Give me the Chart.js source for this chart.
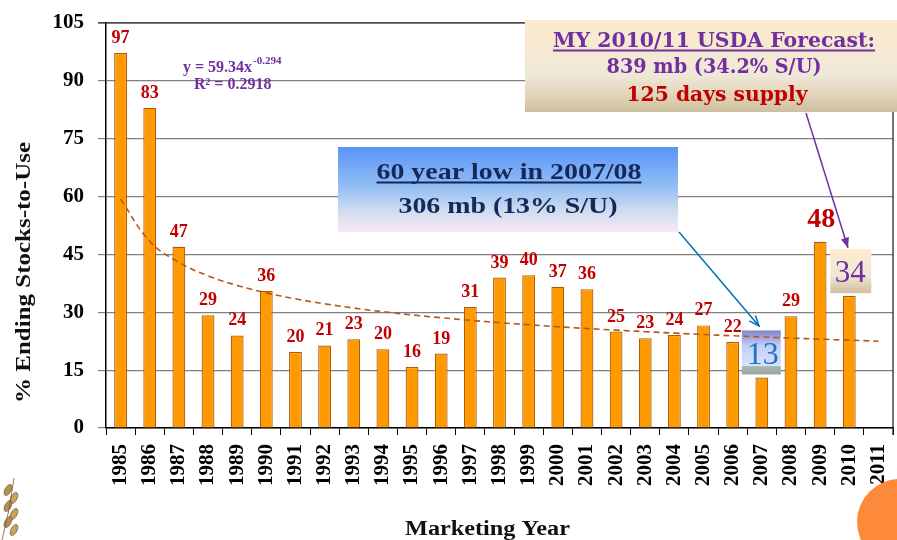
<!DOCTYPE html>
<html><head><meta charset="utf-8">
<script src="https://cdn.jsdelivr.net/npm/chart.js@4/dist/chart.umd.min.js"></script>
<style>html,body{margin:0;padding:0;background:#fff;overflow:hidden}#wrap{width:897px;height:540px;position:relative}</style>
</head><body><div id="wrap"><canvas id="c" width="897" height="540"></canvas></div>
<script>
const years = ['1985','1986','1987','1988','1989','1990','1991','1992','1993','1994','1995','1996','1997','1998','1999','2000','2001','2002','2003','2004','2005','2006','2007','2008','2009','2010','2011'];
const stocksToUse = [97.2,83,47,29.2,24,35.6,19.7,21.4,23,20.4,15.8,19.3,31.4,39,39.6,36.6,36,25,23.3,24.1,26.6,22.3,13.1,29,48.3,34.2,null];
const barLabels = ['97','83','47','29','24','36','20','21','23','20','16','19','31','39','40','37','36','25','23','24','27','22','','29','','',''];
const trendValues = [59.34,48.40,42.96,39.47,36.97,35.04,33.49,32.19,31.10,30.15,29.32,28.58,27.91,27.31,26.77,26.26,25.79,25.37,24.97,24.59,24.24,23.91,23.61,23.31,23.03,22.77,22.51];
const yTickValues = [0,15,30,45,60,75,90,105];
const lowYearIndex = 22, lowLabel = '13';
const peakYearIndex = 24, peakLabel = '48';
const forecastIndex = 25, forecastLabel = '34';

const SERIF = '"Liberation Serif", "Times New Roman", serif';
const WIDE_SERIF = '"DejaVu Serif", serif';

function stretchText(ctx, text, cx, y, w, font, color, underline) {
  ctx.save();
  ctx.font = font;
  const m = ctx.measureText(text).width;
  const sx = w / m;
  ctx.fillStyle = color;
  ctx.textAlign = 'center';
  ctx.textBaseline = 'alphabetic';
  ctx.translate(cx, y); ctx.scale(sx, 1);
  ctx.fillText(text, 0, 0);
  ctx.restore();
  if (underline) {
    ctx.save();
    ctx.strokeStyle = color; ctx.lineWidth = 2;
    ctx.beginPath(); ctx.moveTo(cx - w/2, y + 3.5); ctx.lineTo(cx + w/2, y + 3.5); ctx.stroke();
    ctx.restore();
  }
}
function arrow(ctx, x1, y1, x2, y2, color, filled) {
  ctx.strokeStyle = color; ctx.fillStyle = color; ctx.lineWidth = 1.5;
  ctx.beginPath(); ctx.moveTo(x1, y1); ctx.lineTo(x2, y2); ctx.stroke();
  const a = Math.atan2(y2 - y1, x2 - x1), L = 11, s = 0.38;
  const p1 = [x2 - L*Math.cos(a - s), y2 - L*Math.sin(a - s)];
  const p2 = [x2 - L*Math.cos(a + s), y2 - L*Math.sin(a + s)];
  ctx.beginPath(); ctx.moveTo(p1[0], p1[1]); ctx.lineTo(x2, y2); ctx.lineTo(p2[0], p2[1]);
  if (filled) { ctx.closePath(); ctx.fill(); } else ctx.stroke();
}

const boxesUnder = {
  id: 'boxesUnder',
  beforeDatasetsDraw(chart) {
    const ctx = chart.ctx, meta = chart.getDatasetMeta(0);
    ctx.save();
    let el = meta.data[lowYearIndex];
    let bx = el.x - 20, bw = 39, bh = 44, by = el.y - 3 - bh;
    let g = ctx.createLinearGradient(0, by, 0, by + bh);
    g.addColorStop(0, '#8284c8'); g.addColorStop(0.35, '#c4cdf8'); g.addColorStop(0.8, '#d9e1ff');
    g.addColorStop(0.82, '#aab8b2'); g.addColorStop(1, '#97a8a0');
    ctx.fillStyle = g; ctx.fillRect(bx, by, bw, bh);
    ctx.font = '32px ' + SERIF; ctx.fillStyle = '#1b75bc'; ctx.textAlign = 'center'; ctx.textBaseline = 'alphabetic';
    ctx.fillText(lowLabel, el.x + 1, by + 34);
    el = meta.data[forecastIndex];
    bx = el.x - 19; bw = 41; bh = 44; by = el.y - 3 - bh;
    g = ctx.createLinearGradient(0, by, 0, by + bh);
    g.addColorStop(0, '#fdebcf'); g.addColorStop(0.6, '#f1e7d6'); g.addColorStop(1, '#cfc0a0');
    ctx.fillStyle = g; ctx.fillRect(bx, by, bw, bh);
    ctx.font = '31px ' + SERIF; ctx.fillStyle = '#7030a0';
    ctx.fillText(forecastLabel, el.x + 1, by + 33);
    ctx.restore();
  }
};

const overlay = {
  id: 'overlay',
  afterDraw(chart) {
    const ctx = chart.ctx, ca = chart.chartArea, meta = chart.getDatasetMeta(0);
    ctx.save();
    ctx.strokeStyle = '#1a1a1a'; ctx.lineWidth = 1.2;
    ctx.beginPath(); ctx.moveTo(ca.left - 8, ca.top); ctx.lineTo(ca.right, ca.top); ctx.lineTo(ca.right, ca.bottom + 7); ctx.stroke();
    ctx.textAlign = 'center'; ctx.textBaseline = 'alphabetic';
    ctx.font = 'bold 18px ' + SERIF; ctx.fillStyle = '#c00000';
    meta.data.forEach((el, i) => { if (barLabels[i]) ctx.fillText(barLabels[i], el.x, el.y - 10); });
    const pk = meta.data[peakYearIndex];
    ctx.font = 'bold 28px ' + SERIF; ctx.fillText(peakLabel, pk.x + 1, pk.y - 15);
    ctx.fillStyle = '#7030a0';
    ctx.font = 'bold 16px ' + SERIF; ctx.textAlign = 'left';
    ctx.fillText('y = 59.34x', 183, 72);
    const w1 = ctx.measureText('y = 59.34x').width;
    ctx.font = 'bold 11px ' + SERIF; ctx.fillText('-0.294', 183 + w1 + 1, 64);
    ctx.font = 'bold 16px ' + SERIF; ctx.fillText('R² = 0.2918', 194, 89);
    let g = ctx.createLinearGradient(0, 147, 0, 232);
    g.addColorStop(0, '#5993f7'); g.addColorStop(0.45, '#90bdf5'); g.addColorStop(0.75, '#cfdcef'); g.addColorStop(1, '#f8e8f6');
    ctx.fillStyle = g; ctx.fillRect(338, 147, 340, 85);
    stretchText(ctx, '60 year low in 2007/08', 509, 179, 265, 'bold 24px ' + SERIF, '#14295a', true);
    stretchText(ctx, '306 mb (13% S/U)', 508, 213, 219, 'bold 24px ' + SERIF, '#14295a', false);
    g = ctx.createLinearGradient(0, 20, 0, 112);
    g.addColorStop(0, '#fdeacc'); g.addColorStop(0.6, '#efe8d8'); g.addColorStop(0.8, '#e2d6bc'); g.addColorStop(1, '#cdbf9e');
    ctx.fillStyle = g; ctx.fillRect(525, 20, 372, 92);
    stretchText(ctx, 'MY 2010/11 USDA Forecast:', 714, 47, 322, 'bold 21px ' + WIDE_SERIF, '#7030a0', true);
    stretchText(ctx, '839 mb (34.2% S/U)', 714, 73, 215, 'bold 21px ' + WIDE_SERIF, '#7030a0', false);
    stretchText(ctx, '125 days supply', 717, 101, 181, 'bold 21px ' + WIDE_SERIF, '#c00000', false);
    arrow(ctx, 679, 232, 759, 326, '#0070c0', false);
    arrow(ctx, 806, 113, 848, 248, '#7030a0', true);
    stretchText(ctx, 'Marketing Year', 487.5, 535, 165, 'bold 20px ' + SERIF, '#111', false);
    ctx.save(); ctx.translate(30, 272.5); ctx.rotate(-Math.PI/2);
    stretchText(ctx, '% Ending Stocks-to-Use', 0, 0, 261, 'bold 21px ' + SERIF, '#111', false);
    ctx.restore();
    ctx.fillStyle = '#fd8a3b';
    ctx.beginPath(); ctx.arc(900, 522, 43, 0, Math.PI*2); ctx.fill();
    ctx.strokeStyle = '#6b5a3a'; ctx.lineWidth = 0.8;
    for (let k = 0; k < 6; k++) {
      ctx.fillStyle = k % 2 ? '#c9a45a' : '#b8904a';
      ctx.beginPath(); ctx.ellipse(8 + (k%2)*6, 490 + k*8, 3, 6, 0.5, 0, Math.PI*2); ctx.fill(); ctx.stroke();
    }
    ctx.beginPath(); ctx.moveTo(2, 540); ctx.quadraticCurveTo(10, 510, 14, 478); ctx.stroke();
    ctx.restore();
  }
};

new Chart(document.getElementById('c'), {
  type: 'bar',
  data: {
    labels: years,
    datasets: [
      { type: 'bar', data: stocksToUse, backgroundColor: '#ff9900', borderColor: '#b35a00', borderWidth: 1.2,
        barPercentage: 0.44, categoryPercentage: 1, order: 1 },
      { type: 'line', data: trendValues, borderColor: '#b8561c', borderWidth: 1.6, borderDash: [6, 4],
        pointRadius: 0, tension: 0.4, fill: false, order: 0 }
    ]
  },
  options: {
    responsive: false, animation: false, devicePixelRatio: 1,
    layout: { padding: { top: 23, right: 4, left: 0, bottom: 0 } },
    plugins: { legend: { display: false }, tooltip: { enabled: false } },
    scales: {
      x: {
        grid: { offset: true, drawOnChartArea: false, tickLength: 7, color: '#000' },
        border: { color: '#000', width: 1.5 },
        ticks: { maxRotation: 90, minRotation: 90, padding: 9, color: '#000', font: { family: SERIF, size: 21, weight: 'bold' } },
        afterFit: s => { s.height = 112; s.paddingRight = 0; s.paddingLeft = 0; }
      },
      y: {
        min: 0, max: 105,
        afterBuildTicks: s => { s.ticks = yTickValues.map(v => ({ value: v })); },
        grid: { color: '#808080', lineWidth: 1.2, tickLength: 8 },
        border: { color: '#000', width: 1.5 },
        ticks: { padding: 14, color: '#000', font: { family: SERIF, size: 21, weight: 'bold' } },
        afterFit: s => { s.width = 106; s.paddingTop = 0; s.paddingBottom = 0; }
      }
    }
  },
  plugins: [boxesUnder, overlay]
});
</script>
</body></html>
